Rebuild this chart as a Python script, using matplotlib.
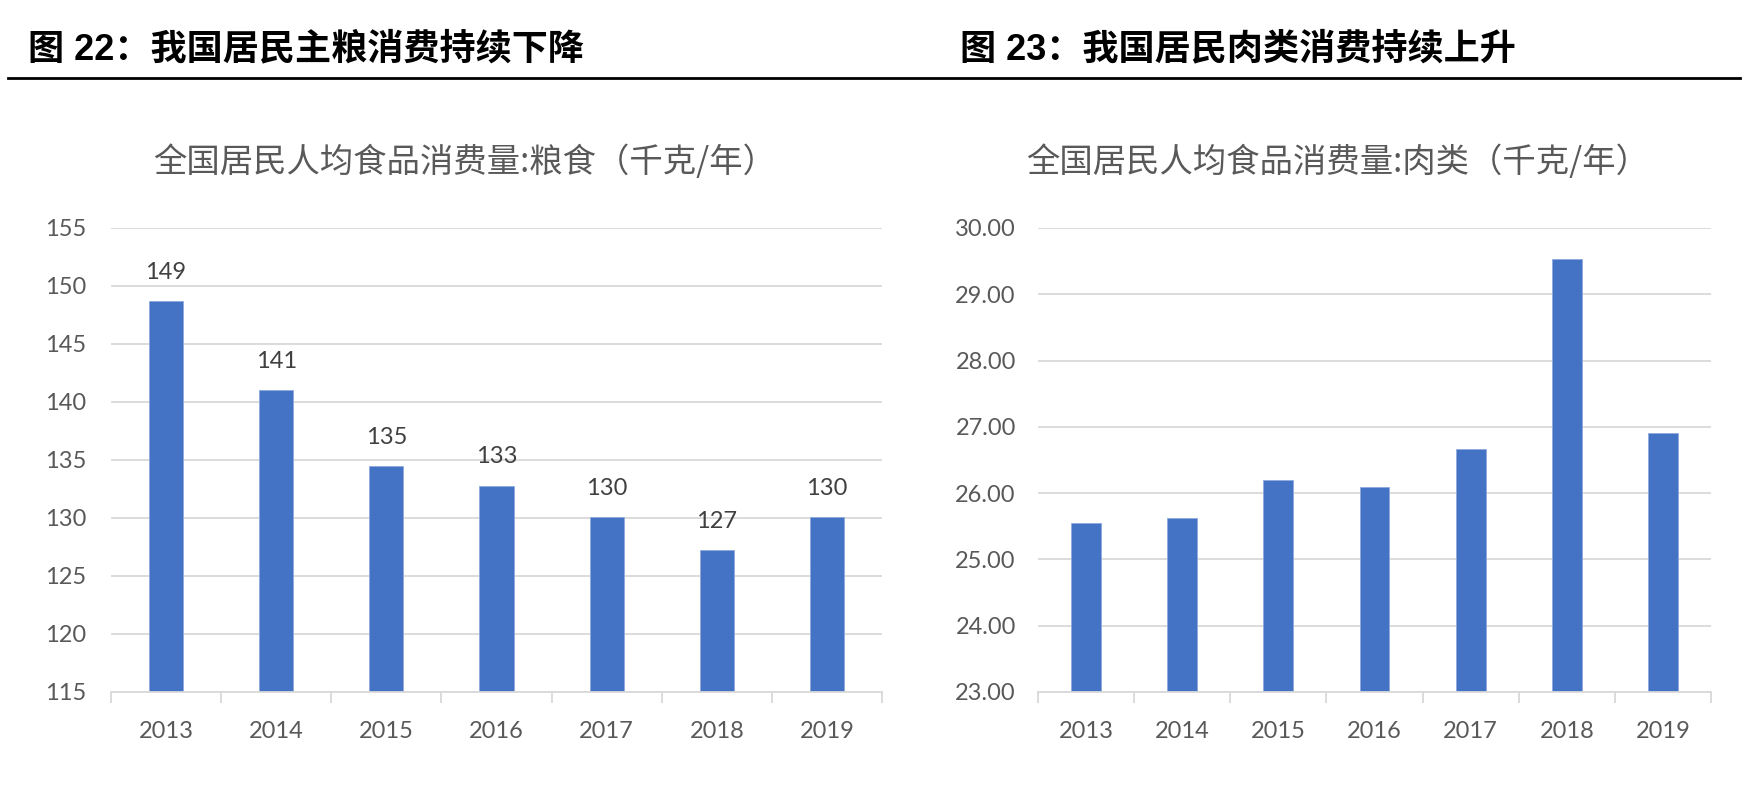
import matplotlib
matplotlib.use("Agg")
import matplotlib.pyplot as plt
from matplotlib import font_manager
import numpy as np

years = ["2013", "2014", "2015", "2016", "2017", "2018", "2019"]
grain = [148.7, 141.0, 134.5, 132.8, 130.1, 127.2, 130.1]
meat = [25.55, 25.62, 26.20, 26.10, 26.67, 29.53, 26.90]

header_left = "图 22：我国居民主粮消费持续下降"
header_right = "图 23：我国居民肉类消费持续上升"
title_left = "全国居民人均食品消费量:粮食（千克/年）"
title_right = "全国居民人均食品消费量:肉类（千克/年）"

names = {f.name for f in font_manager.fontManager.ttflist}
num_font = "Lato" if "Lato" in names else "DejaVu Sans"
cjk = ["Noto Sans CJK SC", "DejaVu Sans"]

W, H = 1758, 786
fig = plt.figure(figsize=(W / 100, H / 100), dpi=100)
fig.patch.set_facecolor("white")

BAR = "#4472C4"
GRID = "#d9d9d9"
TXT = "#595959"


def px_axes(x0, x1, ytop, ybot):
    return fig.add_axes([x0 / W, (H - ybot) / H, (x1 - x0) / W, (ybot - ytop) / H])


def style(ax, lo, hi, step, fmt):
    x = np.arange(len(years))
    ax.set_xlim(-0.5, len(years) - 0.5)
    ax.set_ylim(lo, hi)
    ax.set_yticks(np.arange(lo, hi + step / 2, step))
    ax.set_yticklabels([fmt.format(v) for v in np.arange(lo, hi + step / 2, step)],
                       fontfamily=num_font, fontsize=17, color=TXT)
    ax.set_xticks(x)
    ax.set_xticklabels(years, fontfamily=num_font, fontsize=17, color=TXT)
    ax.set_xticks(np.arange(-0.5, len(years)), minor=True)
    ax.tick_params(axis="x", which="major", length=0, pad=21)
    ax.tick_params(axis="x", which="minor", length=8, color=GRID, width=1.3)
    ax.tick_params(axis="y", length=0, pad=18)
    for s in ["top", "right", "left"]:
        ax.spines[s].set_visible(False)
    ax.spines["bottom"].set_color(GRID)
    ax.spines["bottom"].set_linewidth(1.3)
    ax.yaxis.grid(True, color=GRID, linewidth=1.3)
    ax.set_axisbelow(True)


# left chart
ax1 = px_axes(111, 882, 228, 692)
style(ax1, 115, 155, 5, "{:.0f}")
ax1.bar(np.arange(len(years)), [g - 115 for g in grain], 0.31, bottom=115,
        color=BAR, edgecolor="#8faadc", linewidth=0.6)
for i, v in enumerate(grain):
    ax1.annotate(str(int(v + 0.5)), xy=(i, v), xytext=(0, 13),
                 textcoords="offset points", ha="center", va="bottom",
                 fontfamily=num_font, fontsize=17, color="#404040")

# right chart
ax2 = px_axes(1038, 1711, 228, 692)
style(ax2, 23, 30, 1, "{:.2f}")
ax2.tick_params(axis="y", pad=16)
ax2.bar(np.arange(len(years)), [m - 23 for m in meat], 0.31, bottom=23,
        color=BAR, edgecolor="#8faadc", linewidth=0.6)

# chart titles
fig.text(465 / W, 1 - 163 / H, title_left, family=cjk, fontsize=24, color=TXT,
         ha="center", va="center", fontweight="light")
fig.text(1338 / W, 1 - 163 / H, title_right, family=cjk, fontsize=24, color=TXT,
         ha="center", va="center", fontweight="light")

# report headers
hfam = ["Liberation Sans", "Noto Sans CJK SC"]
fig.text(28 / W, 1 - 50 / H, header_left, family=hfam, fontsize=26,
         fontweight="bold", ha="left", va="center")
fig.text(960 / W, 1 - 50 / H, header_right, family=hfam, fontsize=26,
         fontweight="bold", ha="left", va="center")
fig.add_artist(plt.Line2D([8 / W, 1740 / W], [1 - 78 / H, 1 - 78 / H],
                          color="black", linewidth=2))

fig.savefig("out.png", dpi=100)
